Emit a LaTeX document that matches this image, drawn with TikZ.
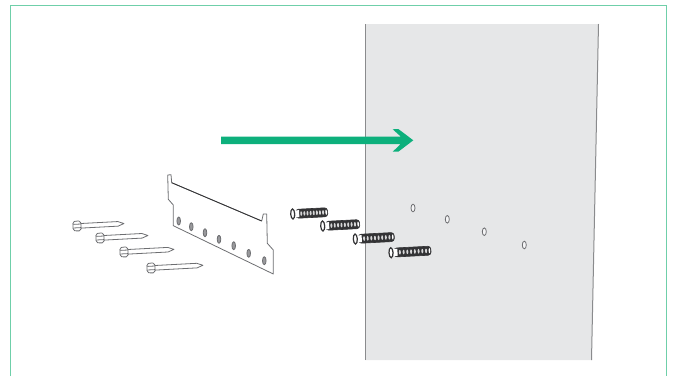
\documentclass[tikz,border=0pt]{standalone}
\usepackage{xcolor}
\definecolor{framegreen}{HTML}{6FCFA9}
\definecolor{arrowgreen}{HTML}{0DB07C}
\definecolor{wallgray}{HTML}{E6E7E8}
\definecolor{edgegray}{HTML}{8A8B8D}
\definecolor{partgray}{HTML}{6D6E71}
\definecolor{plugdark}{HTML}{333335}
\begin{document}
\begin{tikzpicture}[
  x=1pt, y=-1pt,
  frameline/.style={draw=framegreen, line width=1.8pt},
  wallface/.style={fill=wallgray},
  walledge/.style={draw=edgegray, line width=1pt},
  wallhole/.style={draw=partgray, fill=wallgray!40, line width=0.8pt},
  partline/.style={draw=partgray, line width=0.8pt, line join=round},
  pusharrow/.style={fill=arrowgreen},
  plugbody/.style={fill=plugdark, draw=plugdark, line width=0.6pt, rounded corners=3pt}
]
  \useasboundingbox (0,0) rectangle (675,376);
  % frame and wall
  \draw[frameline] (10.5,376) -- (10.5,5.5) -- (666.5,5.5) -- (666.5,376);
  \fill[wallface] (365,24) -- (598.5,24) -- (591.5,360) -- (365,360) -- cycle;
  \draw[walledge] (365,24) -- (365,360);
  \draw[walledge] (598.5,24) -- (591.5,360);
  % holes in the wall
  \foreach \hx/\hy in {413/208, 447.3/219.3, 484.3/231.7, 524.3/245}
    \draw[wallhole] (\hx,\hy) ellipse (2pt and 3.8pt);
  % arrow
  \fill[pusharrow] (221,136.5) -- (400.7,136.5) -- (392.7,129.3) -- (398.3,129) -- (413.3,140.3)
    -- (398.3,151.7) -- (392.7,151.7) -- (400.7,144) -- (221,144) -- cycle;
  % bracket
  \draw[partline, fill=white] (167.7,175) -- (171,174.7) -- (171.7,182.7) -- (261.7,221) -- (263.3,214)
    -- (266.7,214) -- (267.3,243.3) -- (273.3,250) -- (273.3,274) -- (173.3,225.7) -- (173.3,205)
    -- (168.3,199.3) -- cycle;
  \draw[draw=plugdark, line width=0.8pt] (171.7,182.7) -- (261.7,221);
  \foreach \hx/\hy in {178.7/221, 191.3/226.7, 205/232.7, 219/239.3, 233.7/245.7, 248.7/253.3, 264.3/260.7}
    \draw[partline, fill=partgray!70] (\hx,\hy) ellipse (1.8pt and 4pt);
  % screws
  \foreach \hx/\hy/\len in {77/226/47, 100/238/48, 124/252/50, 151/268/52} {
    \begin{scope}[shift={(\hx,\hy)}, rotate=3]
      \draw[partline, fill=white] (3,-2.3) -- (\len-6,-2.3) -- (\len,0) -- (\len-6,2.3) -- (3,2.3) -- cycle;
      \draw[partline, fill=white] (-2.5,-4.7) -- (2,-5) -- (4,-3) -- (4,3) -- (2,5) -- (-2.5,4.7)
        -- (-4,2.5) -- (-4,-2.5) -- cycle;
      \draw[partline] (-3.5,-1.8) -- (4,-1.8) (-3.5,1.8) -- (4,1.8);
    \end{scope}
  }
  % wall plugs
  \foreach \hx/\hy/\len in {292.7/214/35, 322.7/226/37, 355.3/239/39, 391/252.7/40} {
    \begin{scope}[shift={(\hx,\hy)}, rotate=3]
      \draw[plugbody] (3,-4.5) -- (\len,-4.5) -- (\len,4.5) -- (3,4.5) -- cycle;
      \fill[white] (2.5,-3.5) rectangle (6.5,3.5);
      \draw[draw=plugdark, line width=1.2pt, fill=white] (0,0) ellipse (2pt and 5pt);
      \foreach \k in {1,...,8}
        \fill[white!80!plugdark] ({7+(\k-0.5)*(\len-10)/8},0) ellipse (1pt and 2.3pt);
      \fill[white] (\len-1.5,0) ellipse (0.8pt and 2.6pt);
    \end{scope}
  }
\end{tikzpicture}
\end{document}
